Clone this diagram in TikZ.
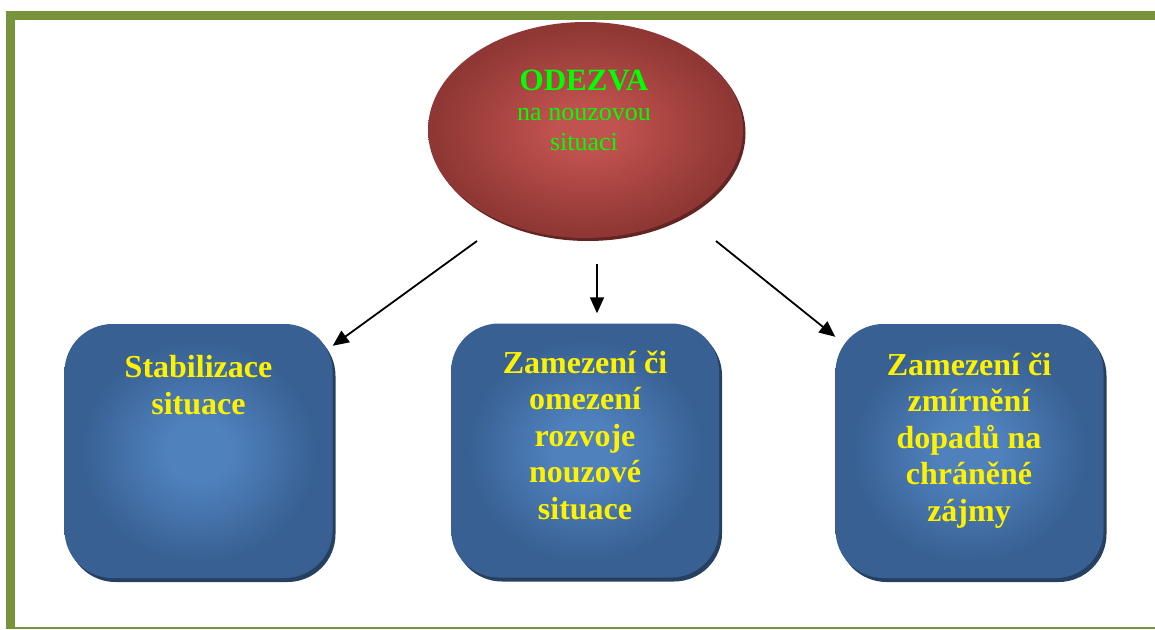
\documentclass[tikz,border=0pt]{standalone}
\usepackage{fontspec}
\setmainfont{Liberation Serif}
\usetikzlibrary{shapes.geometric,arrows.meta}

\definecolor{frame}{RGB}{119,147,60}
\definecolor{redin}{RGB}{192,82,79}
\definecolor{redout}{RGB}{143,55,52}
\definecolor{redshadow}{RGB}{99,37,35}
\definecolor{bluein}{RGB}{79,129,189}
\definecolor{blueout}{RGB}{56,96,146}
\definecolor{blueshadow}{RGB}{38,64,98}
\definecolor{labelgreen}{RGB}{0,255,0}

\pgfdeclareradialshading{redglow}{\pgfpointorigin}{color(0bp)=(redin); color(5bp)=(redin); color(24bp)=(redout); color(50bp)=(redout)}
\pgfdeclareradialshading{blueglow}{\pgfpointorigin}{color(0bp)=(bluein); color(6bp)=(bluein); color(22bp)=(blueout); color(50bp)=(blueout)}

\tikzset{
  oval/.style={ellipse, minimum width=315pt, minimum height=216pt, inner sep=0pt},
  bluebox/.style={rectangle, rounded corners=48pt, minimum width=268pt, minimum height=254pt, inner sep=0pt},
  boxtext/.style={text=yellow, font=\bfseries\fontsize{32pt}{36.5pt}\selectfont, align=center, anchor=base},
  arr/.style={-{Triangle[length=16pt,width=14pt]}, line width=1.8pt}
}

\begin{document}
\begin{tikzpicture}[x=1pt,y=-1pt]
  \useasboundingbox (0,0) rectangle (1155,629);
  % frame
  \fill[frame] (6,11) rectangle (1155,20);
  \fill[frame] (6,11) rectangle (15,629);
  \draw[frame, line width=1.5pt] (15,628) -- (1155,628);

  % top oval
  \node[oval, fill=redshadow] at (588,133) {};
  \node[oval, shading=redglow] (odezva) at (585.5,130) {};
  \node[anchor=base, align=center, text=labelgreen, font=\fontsize{26pt}{30pt}\selectfont] (odezvatext) at (584,150)
    {{\bfseries\fontsize{31pt}{31pt}\selectfont ODEZVA}\\na nouzovou\\situaci};

  % three boxes
  \node[bluebox, fill=blueshadow] at (201.5,455) {};
  \node[bluebox, shading=blueglow] (stab) at (198.5,451) {};
  \node[bluebox, fill=blueshadow] at (588,454.5) {};
  \node[bluebox, shading=blueglow] (zamez) at (585,450.5) {};
  \node[bluebox, fill=blueshadow] at (972.5,455) {};
  \node[bluebox, shading=blueglow] (zmirn) at (969.5,451) {};

  \node[boxtext] (stabtext) at (198.5,414) {Stabilizace\\situace};
  \node[boxtext] (zameztext) at (585,519) {Zamezení či\\omezení\\rozvoje\\nouzové\\situace};
  \node[boxtext] (zmirntext) at (969,521) {Zamezení či\\zmírnění\\dopadů na\\chráněné\\zájmy};

  % arrows
  \coordinate (s1) at (477,241);
  \coordinate (s2) at (597,264);
  \coordinate (s3) at (716,241);
  \draw[arr] (s1) -- ([yshift=-22pt]stab.north east);
  \draw[arr] (s2) -- ([xshift=12pt,yshift=10pt]zamez.north);
  \draw[arr] (s3) -- ([yshift=-13pt]zmirn.north west);
\end{tikzpicture}
\end{document}
